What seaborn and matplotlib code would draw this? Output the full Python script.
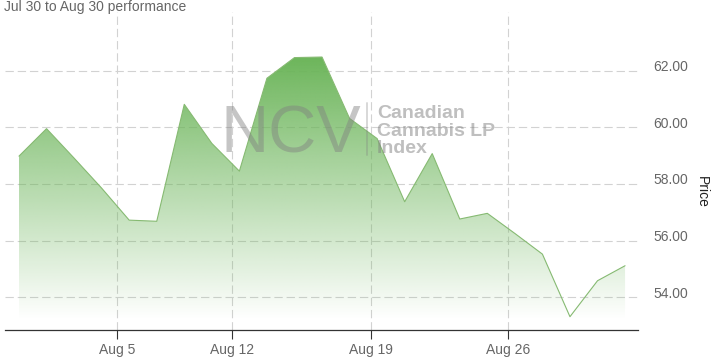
import numpy as np
import pandas as pd
import matplotlib
matplotlib.use("Agg")
import matplotlib.pyplot as plt
import seaborn as sns
from matplotlib.lines import Line2D
from matplotlib.colors import to_rgb
import matplotlib.transforms as mtransforms

# ---- data ----
dates = ["Jul 30", "Jul 31", "Aug 1", "Aug 2", "Aug 6", "Aug 7", "Aug 8", "Aug 9",
         "Aug 12", "Aug 13", "Aug 14", "Aug 15", "Aug 16",
         "Aug 19", "Aug 20", "Aug 21", "Aug 22", "Aug 23",
         "Aug 26", "Aug 27", "Aug 28", "Aug 29", "Aug 30"]
prices = [58.98, 59.95, 58.91, 57.85, 56.72, 56.68, 60.81, 59.43,
          58.45, 61.73, 62.46, 62.48, 60.31,
          59.60, 57.37, 59.07, 56.76, 56.96,
          56.25, 55.52, 53.31, 54.58, 55.11]
tick_labels = ["Aug 5", "Aug 12", "Aug 19", "Aug 26"]
tick_pos = [3.57, 7.75, 12.77, 17.76]
y_ticks = [54, 56, 58, 60, 62]

df = pd.DataFrame({"day": np.arange(len(prices)), "price": prices, "date": dates})

sns.set_style("white")
plt.rcParams["font.family"] = ["Liberation Sans", "DejaVu Sans"]

W, H = 713, 363
fig = plt.figure(figsize=(W / 100, H / 100), dpi=100)
left, right, top, bottom = 5, 638, 12, 330.3
ax = fig.add_axes([left / W, 1 - bottom / H, (right - left) / W, (bottom - top) / H])

xlim = (-0.508, 22.47)
ylim = (52.83, 64.07)

green = "#6cb55a"
line_col = "#86ba72"

# area fill with gradient
poly = ax.fill_between(df["day"], df["price"], ylim[0], color="none", lw=0)
vmax = max(prices)
vend = 53.2
vals = np.linspace(ylim[0], vmax, 400)
t = np.clip((vmax - vals) / (vmax - vend), 0, 1)
rgba = np.zeros((len(vals), 2, 4))
rgba[:, :, :3] = to_rgb(green)
rgba[:, :, 3] = (1 - t)[:, None]
im = ax.imshow(rgba, extent=[xlim[0], xlim[1], ylim[0], vmax], origin="lower",
               aspect="auto", interpolation="bilinear", zorder=1)
im.set_clip_path(poly.get_paths()[0], transform=ax.transData)

sns.lineplot(data=df, x="day", y="price", ax=ax, color=line_col, lw=0.8, zorder=3)

ax.set_xlim(*xlim)
ax.set_ylim(*ylim)

# grid
for yv in y_ticks:
    ax.axhline(yv, color="#d2d2d2", lw=0.8, dashes=(7.5, 3.5), zorder=0.5)
for xv in tick_pos:
    ax.axvline(xv, color="#d2d2d2", lw=0.8, dashes=(7.5, 3.5), zorder=0.5)

ax.set_xticks(tick_pos)
ax.set_xticklabels(tick_labels)
ax.set_yticks(y_ticks)
ax.set_yticklabels([f"{v:.2f}" for v in y_ticks])
ax.yaxis.tick_right()
ax.tick_params(axis="y", length=0, pad=10.8, labelsize=10, labelcolor="#666666")
ax.tick_params(axis="x", length=6.5, width=0.8, color="#333333", direction="out",
               pad=2.4, labelsize=10, labelcolor="#666666", bottom=True)
offset = mtransforms.ScaledTranslation(0, 5 / 100, fig.dpi_scale_trans)
for lab in ax.get_yticklabels():
    lab.set_transform(lab.get_transform() + offset)

for s in ["top", "left", "right"]:
    ax.spines[s].set_visible(False)
ax.spines["bottom"].set_color("#333333")
ax.spines["bottom"].set_linewidth(0.9)
ax.set_xlabel("")
ax.set_ylabel("")

# texts
fig.text(4 / W, 1 - 11 / H, "Jul 30 to Aug 30 performance", fontsize=10,
         color="#666666", ha="left", va="baseline")
fig.text(701.7 / W, 1 - 191.7 / H, "Price", fontsize=10, color="#222222",
         rotation=270, ha="center", va="center")

# watermark
fig.text(220 / W, 1 - 153 / H, "NCV", fontsize=48, color="#808080", alpha=0.45,
         ha="left", va="baseline", zorder=5)
fig.add_artist(Line2D([366.7 / W, 366.7 / W], [1 - 103 / H, 1 - 155 / H],
                      transform=fig.transFigure, color="#808080", alpha=0.3, lw=1.4, zorder=5))
for txt, base in [("Canadian", 118), ("Cannabis LP", 135.5), ("Index", 153)]:
    fig.text(377 / W, 1 - base / H, txt, fontsize=14, fontweight="bold", color="#808080",
             alpha=0.5, ha="left", va="baseline", zorder=5)

fig.savefig("out.png", dpi=100)
